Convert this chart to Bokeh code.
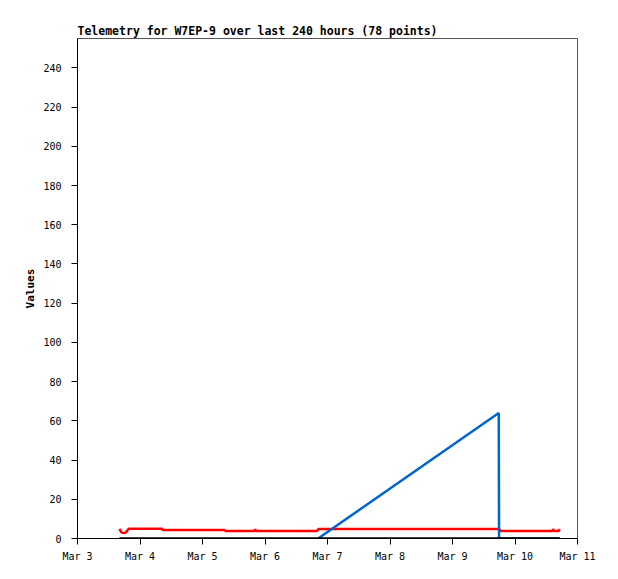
from datetime import datetime, timedelta
from bokeh.plotting import figure
from bokeh.models import Range1d, DaysTicker, DatetimeTickFormatter, FixedTicker
from bokeh.embed import file_html
from bokeh.resources import INLINE

BASE = datetime(2024, 3, 3)

def t(days):
    return BASE + timedelta(days=days)

# Red series (day offsets from Mar 3 00:00, values)
red_days = [0.67, 0.70, 0.73, 0.77, 0.82, 1.35, 1.37, 2.35, 2.37, 2.83, 2.845, 2.86,
            3.83, 3.86, 6.74, 6.78, 7.60, 7.61, 7.63, 7.70, 7.715]
red_vals = [4.9, 3.3, 2.8, 3.0, 5.0, 5.0, 4.3, 4.3, 3.8, 3.8, 4.6, 3.8,
            3.8, 4.9, 4.9, 3.8, 3.8, 4.8, 3.8, 3.8, 4.8]

# Blue series
blue_days = [3.85, 6.74, 6.745, 7.715]
blue_vals = [0.0, 64.0, 0.0, 0.0]

# Black series
black_days = [0.67, 7.715]
black_vals = [0.0, 0.0]

y_ticks = [0, 20, 40, 60, 80, 100, 120, 140, 160, 180, 200, 220, 240]

p = figure(width=610, height=571, output_backend="svg", toolbar_location=None,
           x_axis_type="datetime",
           x_range=Range1d(t(0), t(8)), y_range=Range1d(0, 255),
           title="Telemetry for W7EP-9 over last 240 hours (78 points)")
p.min_border_left = 77
p.min_border_right = 33
p.min_border_top = 38
p.min_border_bottom = 33

p.title.text_font = "DejaVu Sans Mono"
p.title.text_font_size = "11.5px"
p.title.text_font_style = "bold"
p.title.text_color = "black"
p.title.align = "left"
p.title.offset = 0
p.title.standoff = 1

p.xgrid.visible = False
p.ygrid.visible = False
p.outline_line_color = "#555555"
p.outline_line_width = 1

for ax in (p.xaxis[0], p.yaxis[0]):
    ax.axis_line_color = "black"
    ax.major_tick_line_color = "black"
    ax.minor_tick_line_color = None
    ax.major_tick_out = 6
    ax.major_tick_in = 0
    ax.major_label_text_font = "DejaVu Sans Mono"
    ax.major_label_text_font_size = "10px"
    ax.major_label_text_color = "black"

p.xaxis.ticker = DaysTicker(days=list(range(1, 32)))
p.xaxis.formatter = DatetimeTickFormatter(days="%b %-d", months="%b %-d", hours="%b %-d")
p.xaxis.major_label_standoff = 6

p.yaxis.ticker = FixedTicker(ticks=y_ticks)
p.yaxis.major_label_standoff = 10
p.yaxis.axis_label = "Values"
p.yaxis.axis_label_text_font = "DejaVu Sans Mono"
p.yaxis.axis_label_text_font_size = "11px"
p.yaxis.axis_label_text_font_style = "bold"
p.yaxis.axis_label_text_color = "black"
p.yaxis.axis_label_standoff = 3

p.line([t(d) for d in red_days], red_vals, line_color="#ff0000", line_width=2.5)
p.line([t(d) for d in blue_days], blue_vals, line_color="#0066cc", line_width=2.5)
p.line([t(d) for d in black_days], black_vals, line_color="black", line_width=2.5)

open("out.html", "w").write(file_html(p, INLINE))
